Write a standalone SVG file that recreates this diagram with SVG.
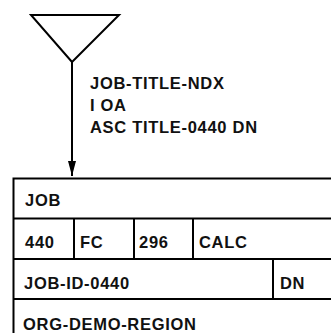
<svg xmlns="http://www.w3.org/2000/svg" width="331" height="333" viewBox="0 0 331 333">
<style>
.ln{fill:none;stroke:#000;stroke-width:2}
text{font-family:"Liberation Sans",Arial,sans-serif;font-size:16.5px;font-weight:bold;letter-spacing:0.7px;fill:#111}
</style>
<defs>
<marker id="ah" markerUnits="userSpaceOnUse" markerWidth="16" markerHeight="10" refX="15" refY="5" orient="auto" viewBox="0 0 16 10">
<path d="M0,1 L15,5 L0,9 Z" fill="#000"/>
</marker>
</defs>
<g id="entry">
<path class="ln" d="M31,15 L119,15 L72,62 Z"/>
</g>
<g id="connectors">
<line class="ln" x1="72" y1="62" x2="72" y2="176" marker-end="url(#ah)"/>
</g>
<g id="label">
<text x="90" y="89">JOB-TITLE-NDX</text>
<text x="90" y="111">I OA</text>
<text x="90" y="133">ASC TITLE-0440 DN</text>
</g>
<g id="record">
<path class="ln" d="M340,178.5 L13.5,178.5 L13.5,345"/>
<line class="ln" x1="13.5" y1="218.5" x2="340" y2="218.5"/>
<line class="ln" x1="13.5" y1="259" x2="340" y2="259"/>
<line class="ln" x1="13.5" y1="299" x2="340" y2="299"/>
<line class="ln" x1="74" y1="218.5" x2="74" y2="259"/>
<line class="ln" x1="134" y1="218.5" x2="134" y2="259"/>
<line class="ln" x1="193" y1="218.5" x2="193" y2="259"/>
<line class="ln" x1="273" y1="259" x2="273" y2="299"/>
<text x="25" y="206">JOB</text>
<text x="25" y="248">440</text>
<text x="80" y="248">FC</text>
<text x="139" y="248">296</text>
<text x="199" y="248">CALC</text>
<text x="24" y="289">JOB-ID-0440</text>
<text x="280" y="289">DN</text>
<text x="23" y="330">ORG-DEMO-REGION</text>
</g>
</svg>
